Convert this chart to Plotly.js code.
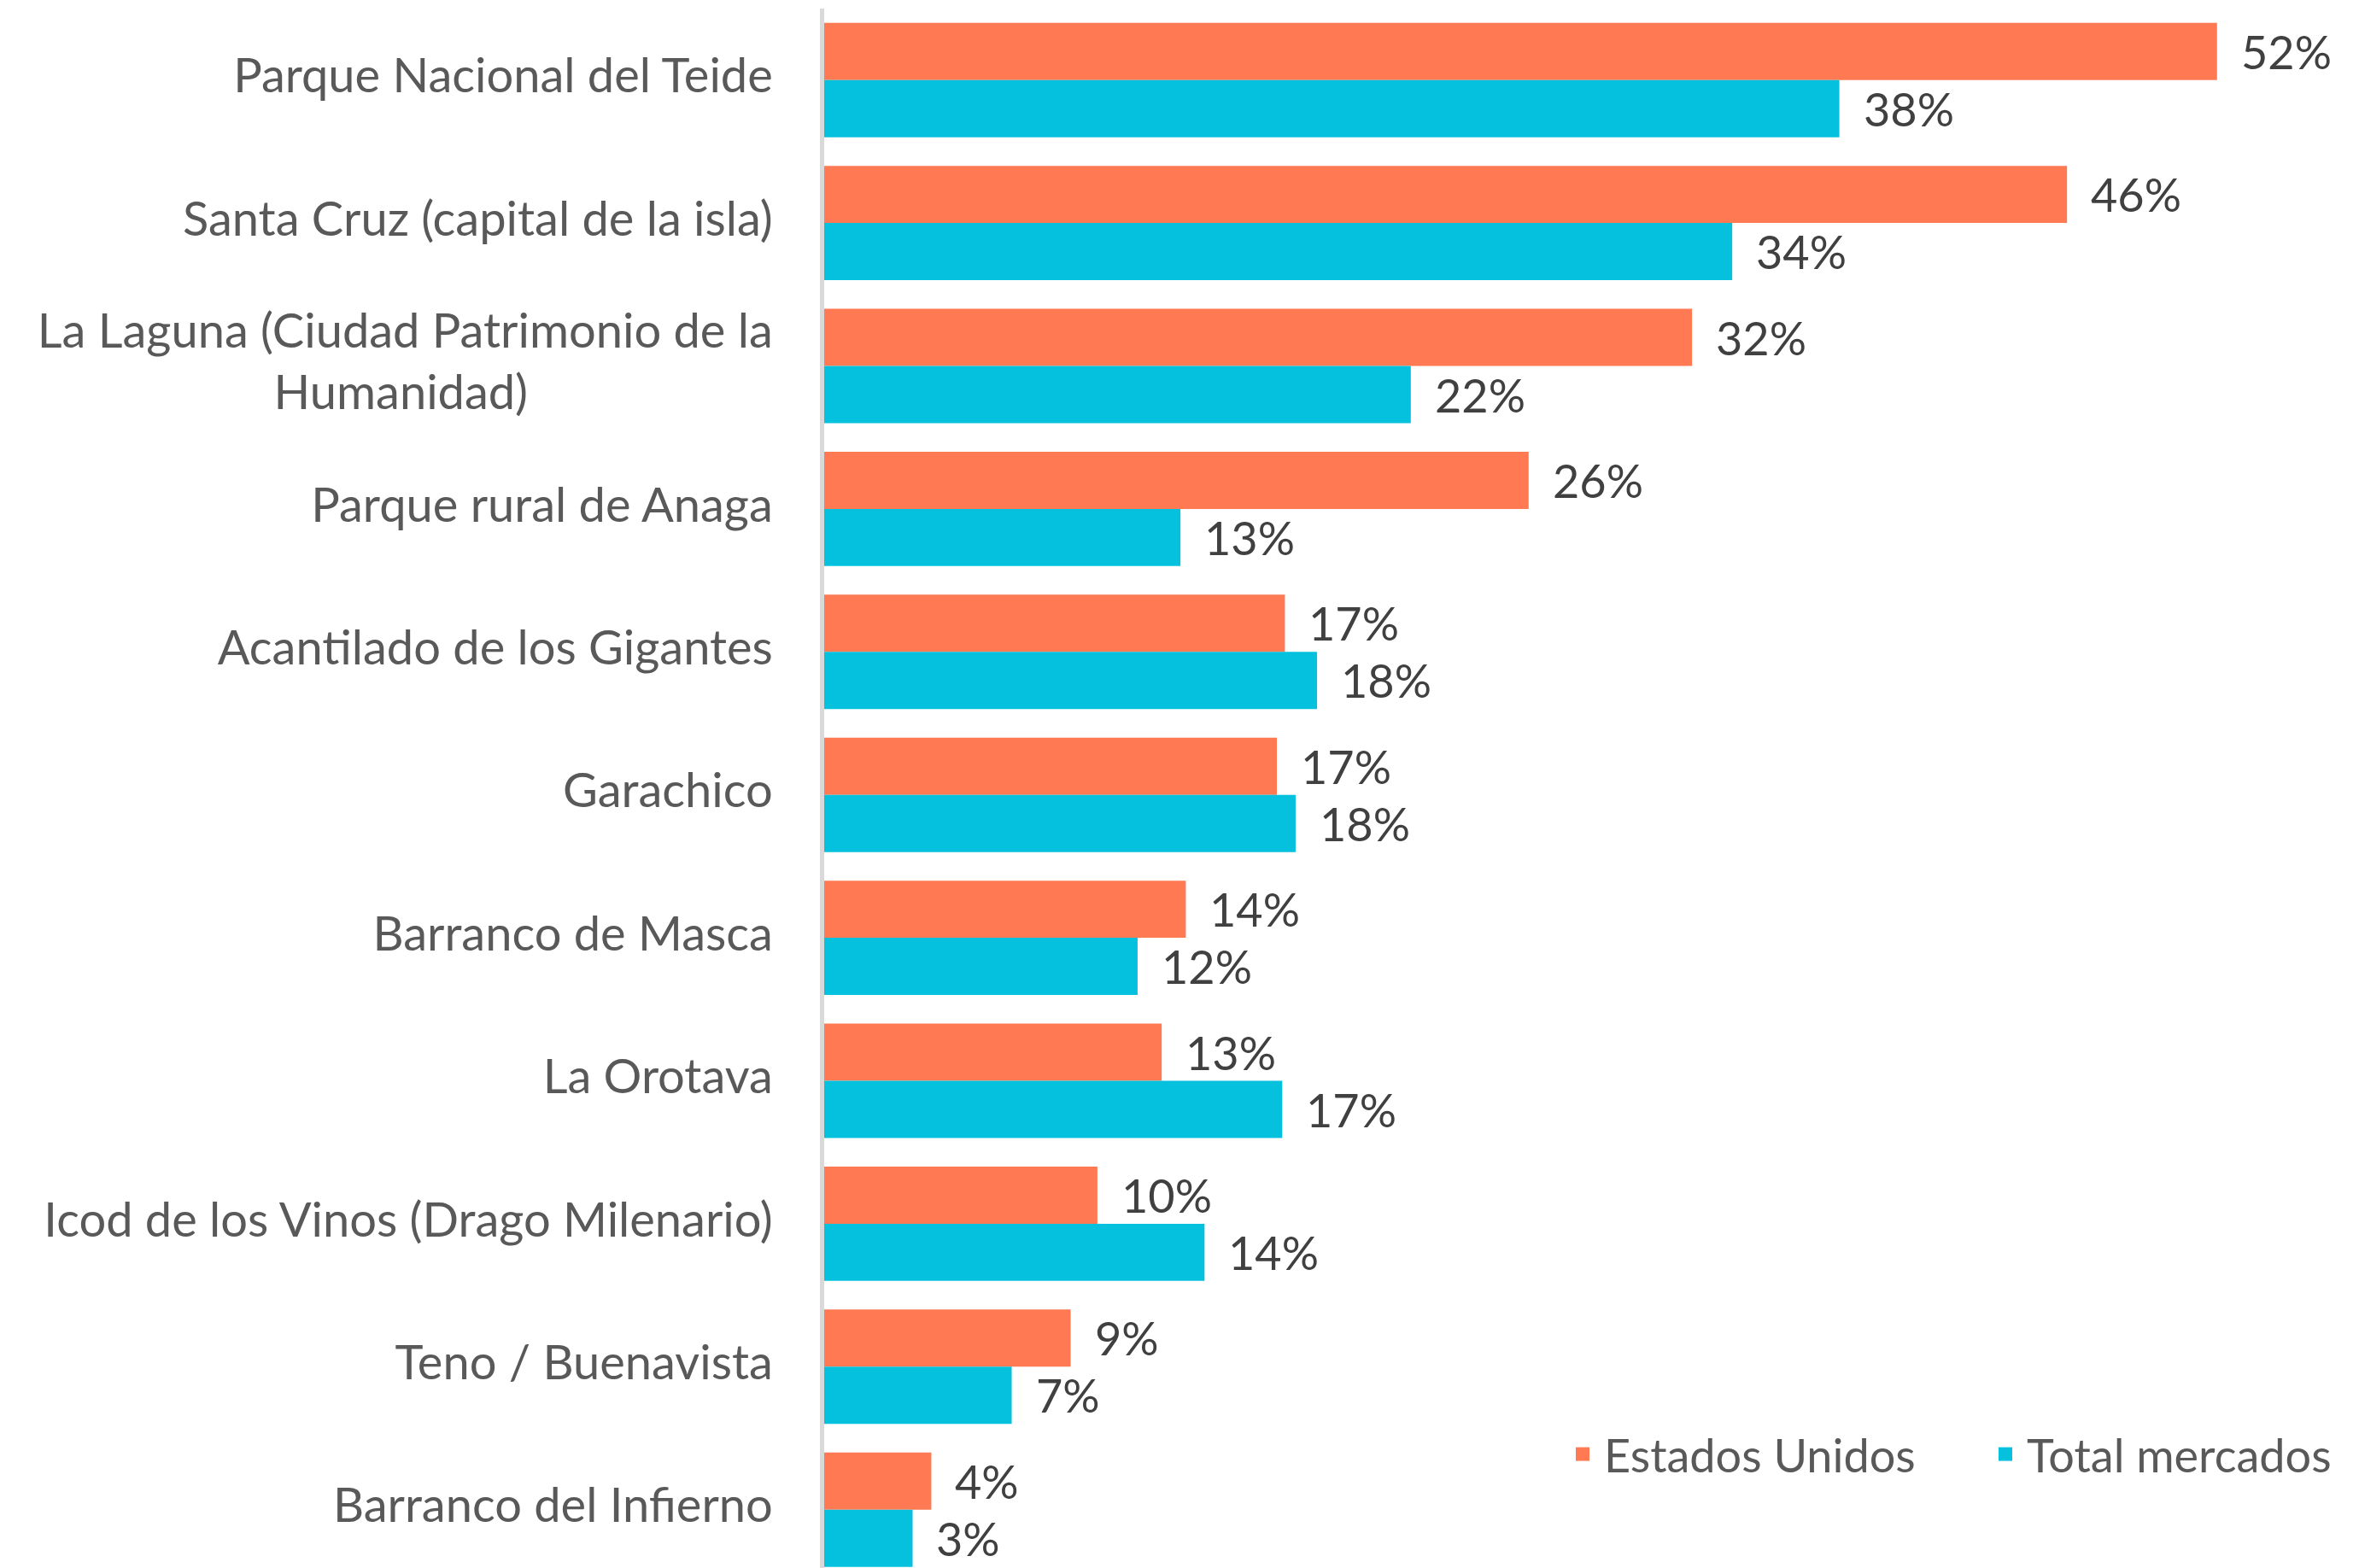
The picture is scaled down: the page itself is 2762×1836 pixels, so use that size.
<!DOCTYPE html>
<html>
<head>
<meta charset="utf-8">
<script src="https://cdn.plot.ly/plotly-3.0.1.min.js"></script>
<style>html,body{margin:0;padding:0;background:#fff;}#chart{width:2762px;height:1836px;}</style>
</head>
<body>
<div id="chart"></div>
<script>
const categories = [
  "Parque Nacional del Teide",
  "Santa Cruz (capital de la isla)",
  "La Laguna (Ciudad Patrimonio de la<br>Humanidad)",
  "Parque rural de Anaga",
  "Acantilado de los Gigantes",
  "Garachico",
  "Barranco de Masca",
  "La Orotava",
  "Icod de los Vinos (Drago Milenario)",
  "Teno / Buenavista",
  "Barranco del Infierno"
];
const seriesNames = ["Estados Unidos", "Total mercados"];
const estadosUnidos = [52.0, 46.4, 32.4, 26.3, 17.2, 16.9, 13.5, 12.6, 10.2, 9.2, 4.0];
const totalMercados = [37.9, 33.9, 21.9, 13.3, 18.4, 17.6, 11.7, 17.1, 14.2, 7.0, 3.3];
const estadosUnidosLabels = ["52%", "46%", "32%", "26%", "17%", "17%", "14%", "13%", "10%", "9%", "4%"];
const totalMercadosLabels = ["38%", "34%", "22%", "13%", "18%", "18%", "12%", "17%", "14%", "7%", "3%"];
const colors = ["#FF7A53", "#06C1DD"];

const FONT = "Lato, 'Open Sans', sans-serif";
const idx = categories.map((_, i) => i);

// center the second line of wrapped labels under the first
const tickLabels = categories.map(c => {
  const parts = c.split("<br>");
  if (parts.length < 2) return c;
  return parts[0] + "<br>" + parts[1] + "\u00A0".repeat(20);
});

const traces = [estadosUnidos, totalMercados].map((vals, k) => ({
  type: "bar",
  orientation: "h",
  name: seriesNames[k],
  y: idx,
  x: vals,
  marker: {color: colors[k]},
  showlegend: false,
  hoverinfo: "x+y"
}));
// grouped placement: orange above, cyan below within each category
traces[0].offset = -0.4; traces[0].width = 0.4;
traces[1].offset = 0; traces[1].width = 0.4;

// legend entries with larger square swatches
seriesNames.forEach((nm, k) => {
  traces.push({
    type: "scatter", mode: "markers", name: nm,
    x: [null], y: [null],
    marker: {color: colors[k], symbol: "square", size: 40},
    showlegend: true, hoverinfo: "skip"
  });
});

const annotations = [];
[[estadosUnidos, estadosUnidosLabels, -1], [totalMercados, totalMercadosLabels, 1]].forEach(([vals, labs, dir]) => {
  vals.forEach((v, i) => {
    annotations.push({
      x: v, y: i, xref: "x", yref: "y",
      text: labs[i], showarrow: false,
      xanchor: "left", yanchor: "middle",
      xshift: 26, yshift: -dir * 33.5,
      font: {family: FONT, size: 54, color: "#404040"}
    });
  });
});

const layout = {
  width: 2762, height: 1836,
  margin: {l: 965, r: 0, t: 10, b: 0, pad: 0, autoexpand: false},
  paper_bgcolor: "#ffffff", plot_bgcolor: "#ffffff",
  barmode: "overlay", bargap: 0.2,
  font: {family: FONT, size: 54, color: "#595959"},
  xaxis: {range: [0, 57.3], showgrid: false, zeroline: false, showline: false, showticklabels: false, ticks: "", fixedrange: true},
  yaxis: {
    type: "linear", range: [10.408, -0.5], autorange: false,
    tickmode: "array", tickvals: idx, ticktext: tickLabels,
    showgrid: false, zeroline: false, showline: true, linecolor: "#D9D9D9", linewidth: 5,
    ticks: "", ticklabelstandoff: 44, ticklabelshift: 5,
    tickfont: {family: FONT, size: 56, color: "#595959"}
  },
  showlegend: true,
  legend: {
    orientation: "h", xref: "paper", yref: "paper",
    x: (1828 - 965) / 1797, xanchor: "left", y: 1 - (1703 - 10) / 1826, yanchor: "middle",
    font: {family: FONT, size: 54, color: "#595959"},
    entrywidth: 440, entrywidthmode: "pixels", itemwidth: 40,
    bgcolor: "rgba(0,0,0,0)", traceorder: "normal"
  },
  annotations: annotations
};

Plotly.newPlot("chart", traces, layout, {displayModeBar: false, staticPlot: true});
</script>
</body>
</html>
